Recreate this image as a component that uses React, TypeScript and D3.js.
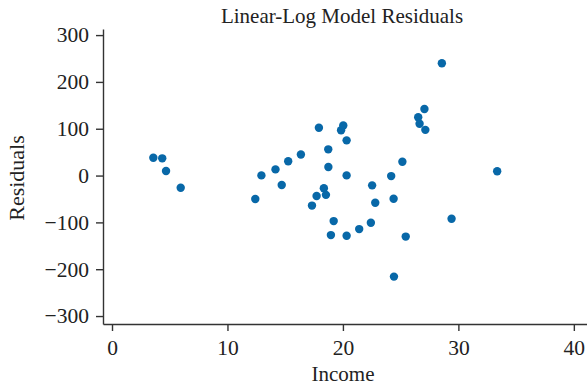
import React, { useEffect, useRef } from 'react';
import * as d3 from 'd3';

// income (x) and residual (y)
const income = [
  3.58, 4.35, 4.68, 5.95, 12.41, 12.94, 14.16, 14.7, 15.26, 16.36,
  17.32, 17.72, 17.92, 18.35, 18.53, 18.73, 18.74, 18.96, 19.2, 19.84,
  20.03, 20.32, 20.32, 20.32, 21.41, 22.42, 22.53, 22.8, 24.18, 24.39,
  24.42, 25.15, 25.44, 26.52, 26.64, 27.06, 27.14, 28.57, 29.41, 33.36,
];
const residuals = [
  38, 36.8, 9.6, -26.1, -50.2, 0.4, 13.2, -20.3, 30.6, 44.9,
  -64.1, -43.8, 102.1, -27.1, -41.2, 56, 18.2, -127.1, -97.2, 96.8,
  106.8, 75.2, 0.4, -128.6, -114.3, -100.9, -20.9, -58.1, -1.1, -49.6,
  -215.8, 29.5, -130.3, 124.4, 110.7, 142.1, 97.6, 240, -92.3, 9.2,
];
const xTicks = [0, 10, 20, 30, 40];
const yTicks = [-300, -200, -100, 0, 100, 200, 300];

const W = 587;
const H = 385;
const font = '"Liberation Serif", "Times New Roman", serif';

export default function App() {
  const ref = useRef<SVGSVGElement>(null);

  useEffect(() => {
    const svg = d3.select(ref.current);
    svg.selectAll('*').remove();

    const x = d3.scaleLinear().domain([-0.78, 41.4]).range([103, 590]);
    const y = d3.scaleLinear().domain([-317, 313]).range([324, 29]);

    const xAxis = svg.append('g')
      .attr('transform', `translate(0,${y(-317)})`)
      .call(d3.axisBottom(x).tickValues(xTicks).tickSize(7).tickPadding(9).tickSizeOuter(0));
    const yAxis = svg.append('g')
      .attr('transform', `translate(${x(-0.78)},0)`)
      .call(d3.axisLeft(y).tickValues(yTicks).tickSize(7).tickPadding(7).tickSizeOuter(0));

    [xAxis, yAxis].forEach(g => {
      g.selectAll('path, line').attr('stroke', '#333').attr('stroke-width', 1.4);
      g.selectAll('text')
        .attr('fill', '#222')
        .style('font-family', font)
        .style('font-size', '21.5px');
    });

    const data = income.map((v, i) => ({ income: v, resid: residuals[i] }));
    svg.append('g')
      .selectAll('circle')
      .data(data)
      .enter()
      .append('circle')
      .attr('cx', d => x(d.income))
      .attr('cy', d => y(d.resid))
      .attr('r', 4.2)
      .attr('fill', '#0868a8');

    svg.append('text')
      .attr('x', 342)
      .attr('y', 23)
      .attr('text-anchor', 'middle')
      .style('font-family', font)
      .style('font-size', '21px')
      .attr('fill', '#222')
      .text('Linear-Log Model Residuals');

    svg.append('text')
      .attr('x', 343)
      .attr('y', 381)
      .attr('text-anchor', 'middle')
      .style('font-family', font)
      .style('font-size', '21px')
      .attr('fill', '#222')
      .text('Income');

    svg.append('text')
      .attr('transform', `translate(24,178) rotate(-90)`)
      .attr('text-anchor', 'middle')
      .style('font-family', font)
      .style('font-size', '22px')
      .attr('fill', '#222')
      .text('Residuals');
  }, []);

  return (
    <svg ref={ref} width={W} height={H}
      style={{ position: 'absolute', left: 0, top: 0, background: '#fff' }} />
  );
}
